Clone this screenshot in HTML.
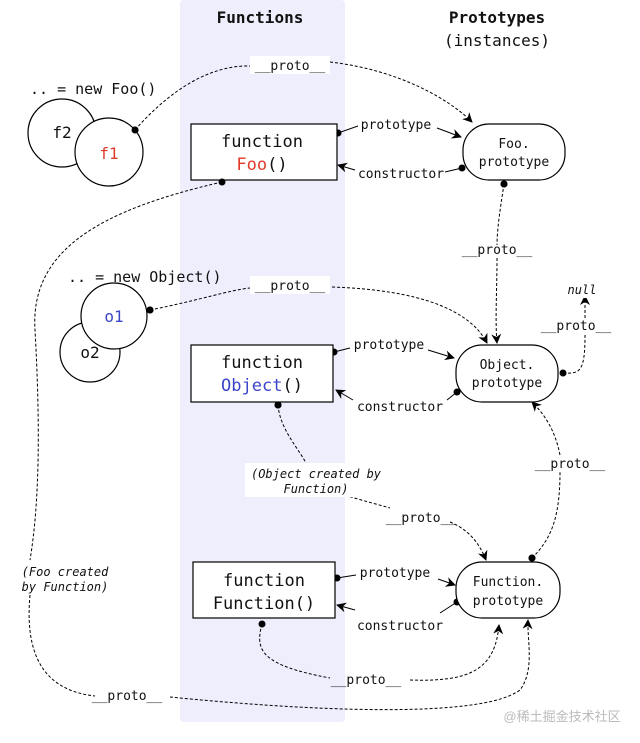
<!DOCTYPE html>
<html><head><meta charset="utf-8"><style>
html,body{margin:0;padding:0;background:#fff}
svg{display:block}
text{font-family:"DejaVu Sans Mono","Liberation Mono",monospace;fill:#111}
.i{font-style:italic;font-size:12px}
.s{font-size:13px}
</style></head><body>
<svg width="640" height="743" viewBox="0 0 640 743" xmlns="http://www.w3.org/2000/svg">
<defs>
<marker id="a" markerWidth="10" markerHeight="10" refX="9" refY="5" orient="auto" markerUnits="userSpaceOnUse"><path d="M0,0 L10,5 L0,10 L3,5z" fill="#000"/></marker>
<marker id="d" markerWidth="8" markerHeight="8" refX="4" refY="4" markerUnits="userSpaceOnUse"><circle cx="4" cy="4" r="3.5" fill="#000"/></marker>
</defs>
<rect x="180" y="0" width="165" height="722" rx="4" fill="#eeeefc"/>
<text x="260" y="23" text-anchor="middle" font-weight="bold" font-size="16">Functions</text>
<text x="497" y="23" text-anchor="middle" font-weight="bold" font-size="16">Prototypes</text>
<text x="497" y="46" text-anchor="middle" font-size="16">(instances)</text>

<g fill="none" stroke="#000" stroke-width="1" stroke-dasharray="3,2">
<path d="M135,130 C170,90 210,65 250,66" marker-start="url(#d)"/>
<path d="M330,62 C400,70 450,100 472,122" marker-end="url(#a)"/>
<path d="M222,182 C100,210 30,250 35,330 C40,420 40,500 30,560"/>
<path d="M30,595 C25,650 40,690 95,696"/>
<path d="M170,697 C300,710 480,720 520,690 C535,670 527,640 528,620" marker-end="url(#a)"/>
<path d="M504,184 C500,210 497,230 497,245" marker-start="url(#d)"/>
<path d="M497,258 C497,290 495,320 497,343" marker-end="url(#a)"/>
<path d="M150,310 C200,300 230,290 250,288" marker-start="url(#d)"/>
<path d="M332,287 C420,290 470,310 487,343" marker-end="url(#a)"/>
<path d="M563,373 C580,374 585,372 585,335"/>
<path d="M585,318 L585,296" marker-end="url(#a)"/>
<path d="M278,405 C280,430 300,450 307,465" marker-start="url(#d)"/>
<path d="M345,495 C360,500 380,505 390,508"/>
<path d="M450,522 C470,530 480,545 486,560" marker-end="url(#a)"/>
<path d="M532,558 C550,540 560,520 560,472" marker-start="url(#d)"/>
<path d="M560,455 C555,430 545,415 532,402" marker-end="url(#a)"/>
<path d="M262,624 C255,650 260,665 330,678"/>
<path d="M410,680 C470,682 495,670 499,625" marker-end="url(#a)"/>
</g>
<g fill="none" stroke="#000" stroke-width="1">
<path d="M338,133 L358,126" marker-start="url(#d)"/>
<path d="M437,128 L461,137" marker-end="url(#a)"/>
<path d="M462,168 L445,172" marker-start="url(#d)"/>
<path d="M355,170 L338,165" marker-end="url(#a)"/>
<path d="M334,352 L350,348" marker-start="url(#d)"/>
<path d="M428,350 L454,358" marker-end="url(#a)"/>
<path d="M457,392 L447,400" marker-start="url(#d)"/>
<path d="M353,400 L336,390" marker-end="url(#a)"/>
<path d="M337,578 L356,575" marker-start="url(#d)"/>
<path d="M438,579 L455,585" marker-end="url(#a)"/>
<path d="M457,602 L440,613" marker-start="url(#d)"/>
<path d="M355,610 L337,605" marker-end="url(#a)"/>
</g>

<g fill="#fff" stroke="#000" stroke-width="1.2">
<circle cx="62" cy="133" r="34"/>
<circle cx="109" cy="152" r="34"/>
<circle cx="90" cy="352" r="30"/>
<circle cx="114" cy="316" r="33"/>
<rect x="191" y="124" width="146" height="56"/>
<rect x="191" y="345" width="142" height="57"/>
<rect x="193" y="562" width="142" height="56"/>
<rect x="463" y="124" width="102" height="56" rx="26"/>
<rect x="456" y="345" width="102" height="57" rx="26"/>
<rect x="456" y="562" width="104" height="56" rx="26"/>
</g>
<circle cx="135" cy="130" r="3.5"/><circle cx="222" cy="182" r="3.5"/>
<circle cx="504" cy="184" r="3.5"/><circle cx="150" cy="310" r="3.5"/>
<circle cx="563" cy="373" r="3.5"/><circle cx="278" cy="405" r="3.5"/>
<circle cx="532" cy="558" r="3.5"/><circle cx="262" cy="624" r="3.5"/>

<text x="30" y="94" font-size="15">.. = new Foo()</text>
<text x="62" y="138" text-anchor="middle" font-size="16">f2</text>
<text x="109" y="159" text-anchor="middle" font-size="16" style="fill:#e0392b">f1</text>
<text x="68" y="282" font-size="15">.. = new Object()</text>
<text x="114" y="322" text-anchor="middle" font-size="16" style="fill:#3b45c8">o1</text>
<text x="90" y="358" text-anchor="middle" font-size="16">o2</text>

<text x="262" y="147" text-anchor="middle" font-size="17">function</text>
<text x="262" y="170" text-anchor="middle" font-size="17"><tspan style="fill:#e0392b">Foo</tspan>()</text>
<text x="262" y="368" text-anchor="middle" font-size="17">function</text>
<text x="262" y="391" text-anchor="middle" font-size="17"><tspan style="fill:#3b45c8">Object</tspan>()</text>
<text x="264" y="586" text-anchor="middle" font-size="17">function</text>
<text x="264" y="609" text-anchor="middle" font-size="17">Function()</text>
<text x="514" y="148" text-anchor="middle" class="s">Foo.</text>
<text x="514" y="166" text-anchor="middle" class="s">prototype</text>
<text x="507" y="369" text-anchor="middle" class="s">Object.</text>
<text x="507" y="387" text-anchor="middle" class="s">prototype</text>
<text x="508" y="586" text-anchor="middle" class="s">Function.</text>
<text x="508" y="605" text-anchor="middle" class="s">prototype</text>

<g class="s">
<rect x="250" y="56" width="80" height="18" fill="#fff"/>
<text x="290" y="70" text-anchor="middle">__proto__</text>
<rect x="250" y="276" width="80" height="18" fill="#fff"/>
<text x="290" y="290" text-anchor="middle">__proto__</text>
<text x="497" y="254" text-anchor="middle">__proto__</text>
<text x="576" y="330" text-anchor="middle">__proto__</text>
<text x="570" y="468" text-anchor="middle">__proto__</text>
<text x="421" y="522" text-anchor="middle">__proto__</text>
<text x="366" y="684" text-anchor="middle">__proto__</text>
<text x="127" y="700" text-anchor="middle">__proto__</text>
<text x="396" y="129" text-anchor="middle">prototype</text>
<text x="401" y="178" text-anchor="middle">constructor</text>
<text x="389" y="349" text-anchor="middle">prototype</text>
<text x="400" y="411" text-anchor="middle">constructor</text>
<text x="395" y="577" text-anchor="middle">prototype</text>
<text x="400" y="630" text-anchor="middle">constructor</text>
</g>
<rect x="560" y="280" width="44" height="18" fill="#fff"/>
<text x="582" y="294" text-anchor="middle" class="i">null</text>
<rect x="245" y="463" width="140" height="34" fill="#fff"/>
<text x="316" y="478" text-anchor="middle" class="i">(Object created by</text>
<text x="316" y="493" text-anchor="middle" class="i">Function)</text>
<text x="65" y="576" text-anchor="middle" class="i">(Foo created</text>
<text x="65" y="591" text-anchor="middle" class="i">by Function)</text>
<text x="562" y="721" text-anchor="middle" font-size="13" style="fill:#bbb;font-family:'Liberation Sans','Noto Sans CJK SC',sans-serif">@稀土掘金技术社区</text>
</svg>
</body></html>
